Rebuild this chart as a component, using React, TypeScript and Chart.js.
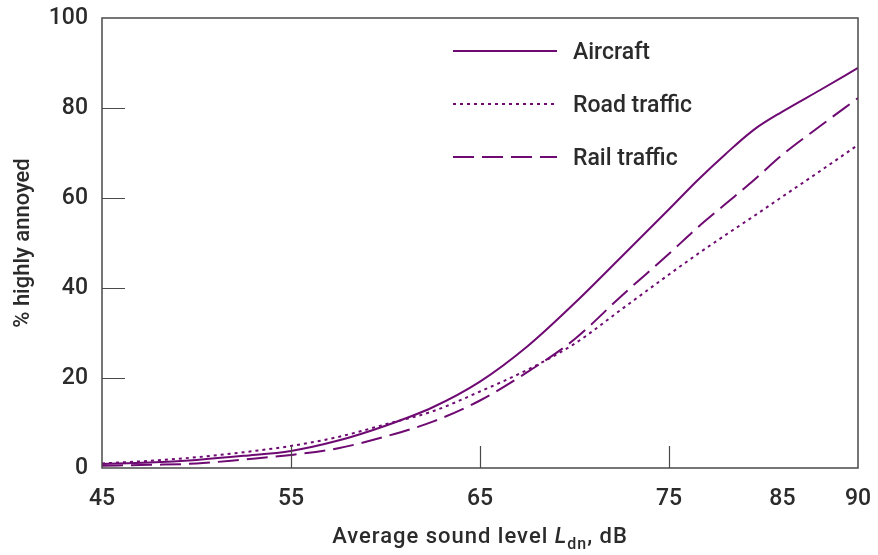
import React, { useEffect, useRef } from 'react';
import { Chart, registerables, LinearScale } from 'chart.js';

// ---- data ----
const SOUND_LEVELS = [45, 47.5, 50, 52.5, 55, 57.5, 60, 62.5, 65, 67.5, 70, 72.5, 75, 77.5, 80, 82.5, 85, 87.5, 90];
const AIRCRAFT = [0.9, 1.2, 1.8, 2.7, 3.8, 6.1, 9.4, 13.5, 19.2, 27.0, 36.6, 47.0, 57.5, 63.9, 69.8, 75.2, 79.2, 84.0, 88.9];
const ROAD_TRAFFIC = [1.0, 1.6, 2.4, 3.5, 4.9, 6.9, 9.7, 12.6, 17.0, 21.8, 27.6, 35.3, 43.0, 47.5, 51.8, 56.0, 60.3, 66.0, 71.8];
const RAIL_TRAFFIC = [0.5, 0.7, 1.0, 1.9, 2.9, 4.4, 7.0, 10.3, 15.0, 21.3, 28.6, 38.3, 47.6, 53.4, 58.7, 64.0, 69.6, 76.0, 82.2];
const SERIES_NAMES = ['Aircraft', 'Road traffic', 'Rail traffic'];
const X_TICKS = [45, 55, 65, 75, 85, 90];
const X_INNER_TICKS = [55, 65, 75];
const Y_INNER_TICKS = [20, 40, 60, 80];
const Y_TITLE = '% highly annoyed';
const X_TITLE_PARTS = ['Average sound level ', 'L', 'dn', ', dB'];

// axis break points of the reference's (non-uniform) x axis
const AXIS_VALUES = [45, 75, 85, 90];
const AXIS_FRACTIONS = [0, 0.75, 0.9, 1];

const PURPLE = '#6e0a72';
const TEXT = '#2b2b2b';
const AXIS = '#4a4a4a';
const FONT = "Roboto, 'Liberation Sans', Arial, sans-serif";

function valueToFraction(v: number) {
  for (let i = 0; i < AXIS_VALUES.length - 1; i++) {
    const a = AXIS_VALUES[i], b = AXIS_VALUES[i + 1];
    if (v <= b || i === AXIS_VALUES.length - 2) {
      const t = (v - a) / (b - a);
      return AXIS_FRACTIONS[i] + t * (AXIS_FRACTIONS[i + 1] - AXIS_FRACTIONS[i]);
    }
  }
  return 0;
}
function fractionToValue(f: number) {
  for (let i = 0; i < AXIS_FRACTIONS.length - 1; i++) {
    const a = AXIS_FRACTIONS[i], b = AXIS_FRACTIONS[i + 1];
    if (f <= b || i === AXIS_FRACTIONS.length - 2) {
      const t = (f - a) / (b - a);
      return AXIS_VALUES[i] + t * (AXIS_VALUES[i + 1] - AXIS_VALUES[i]);
    }
  }
  return AXIS_VALUES[0];
}

class BrokenLinearScale extends LinearScale {
  static id = 'brokenLinear';
  static defaults = LinearScale.defaults;
  getPixelForValue(value: number) {
    return this.getPixelForDecimal(valueToFraction(value));
  }
  getValueForPixel(pixel: number) {
    return fractionToValue(this.getDecimalForPixel(pixel));
  }
}

Chart.register(...registerables, BrokenLinearScale as any);

const decorPlugin = {
  id: 'decor',
  afterDatasetsDraw(chart: any) {
    const { ctx, chartArea, scales } = chart;
    const { left, right, top, bottom } = chartArea;
    const x = scales.x, y = scales.y;
    ctx.save();
    // frame
    ctx.strokeStyle = AXIS;
    ctx.lineWidth = 1.5;
    ctx.setLineDash([]);
    ctx.strokeRect(left, top, right - left, bottom - top);
    // inward ticks
    ctx.beginPath();
    X_INNER_TICKS.forEach((v) => {
      const px = Math.round(x.getPixelForValue(v)) + 0.5;
      ctx.moveTo(px, bottom);
      ctx.lineTo(px, bottom - 22);
    });
    Y_INNER_TICKS.forEach((v) => {
      const py = Math.round(y.getPixelForValue(v)) + 0.5;
      ctx.moveTo(left, py);
      ctx.lineTo(left + 23, py);
    });
    ctx.lineWidth = 1.2;
    ctx.stroke();

    // legend
    ctx.font = `500 23px ${FONT}`;
    ctx.textBaseline = 'alphabetic';
    ctx.textAlign = 'left';
    chart.data.datasets.forEach((ds: any, i: number) => {
      const ly = 51 + i * 53;
      ctx.beginPath();
      ctx.strokeStyle = ds.borderColor;
      ctx.lineWidth = ds.borderWidth;
      ctx.setLineDash(ds.borderDash || []);
      ctx.moveTo(453, ly);
      ctx.lineTo(557, ly);
      ctx.stroke();
      ctx.setLineDash([]);
      ctx.fillStyle = TEXT;
      ctx.fillText(ds.label, 573, ly + 8);
    });

    // x-axis title with italic L and subscript
    const fonts = [`500 22px ${FONT}`, `italic 500 22px ${FONT}`, `500 16px ${FONT}`, `500 22px ${FONT}`];
    const dy = [0, 0, 6, 0];
    (ctx as any).letterSpacing = '1px';
    const widths = X_TITLE_PARTS.map((t, i) => {
      ctx.font = fonts[i];
      return ctx.measureText(t).width;
    });
    const total = widths.reduce((a, b) => a + b, 0);
    let cx = (left + right) / 2 - total / 2;
    const base = 543;
    ctx.fillStyle = TEXT;
    X_TITLE_PARTS.forEach((t, i) => {
      ctx.font = fonts[i];
      ctx.fillText(t, cx, base + dy[i]);
      cx += widths[i];
    });
    (ctx as any).letterSpacing = '0px';
    ctx.restore();
  },
};

export default function App() {
  const ref = useRef<HTMLCanvasElement>(null);
  useEffect(() => {
    if (!ref.current) return;
    const mk = (label: string, data: number[], dash: number[]) => ({
      label,
      data: SOUND_LEVELS.map((v, i) => ({ x: v, y: data[i] })),
      borderColor: PURPLE,
      backgroundColor: PURPLE,
      borderWidth: 2,
      borderDash: dash,
      pointRadius: 0,
      cubicInterpolationMode: 'monotone' as const,
      fill: false,
    });
    const chart = new Chart(ref.current, {
      type: 'line',
      data: {
        datasets: [
          mk(SERIES_NAMES[0], AIRCRAFT, []),
          mk(SERIES_NAMES[1], ROAD_TRAFFIC, [3, 4]),
          mk(SERIES_NAMES[2], RAIL_TRAFFIC, [21, 8]),
        ],
      },
      options: {
        animation: false,
        responsive: false,
        events: [],
        layout: { padding: { top: 18, right: 20, left: 0, bottom: 0 } },
        plugins: { legend: { display: false }, tooltip: { enabled: false } },
        scales: {
          x: {
            type: 'brokenLinear' as any,
            min: 45,
            max: 90,
            grid: { display: false, drawTicks: false },
            border: { display: false },
            afterBuildTicks: (s: any) => {
              s.ticks = X_TICKS.map((v) => ({ value: v }));
            },
            afterFit: (s: any) => {
              s.height = 87;
              s.paddingLeft = 0;
              s.paddingRight = 0;
            },
            ticks: {
              autoSkip: false,
              maxRotation: 0,
              padding: 17,
              color: TEXT,
              font: { family: FONT, size: 23, weight: 500 },
              callback: (v: any) => String(v),
            },
          },
          y: {
            type: 'linear',
            min: 0,
            max: 100,
            grid: { display: false, drawTicks: false },
            border: { display: false },
            afterFit: (s: any) => {
              s.width = 102;
              s.paddingTop = 0;
              s.paddingBottom = 0;
            },
            ticks: {
              stepSize: 20,
              padding: 14,
              color: TEXT,
              font: { family: FONT, size: 23, weight: 500 },
            },
            title: {
              display: true,
              text: Y_TITLE,
              color: TEXT,
              font: { family: FONT, size: 22, weight: 500 },
              padding: { top: 10, bottom: 0 },
            },
          },
        },
      },
      plugins: [decorPlugin],
    });
    return () => chart.destroy();
  }, []);
  return (
    <div style={{ position: 'absolute', left: 0, top: 0, width: 878, height: 555, background: '#fff' }}>
      <canvas ref={ref} width={878} height={555} style={{ display: 'block' }} />
    </div>
  );
}
